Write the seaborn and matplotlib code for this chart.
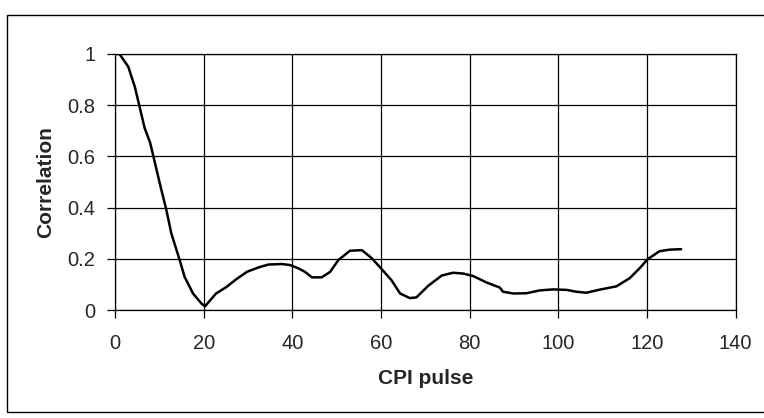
import numpy as np
import pandas as pd
import matplotlib
matplotlib.use("Agg")
import matplotlib.pyplot as plt
from matplotlib.patches import Rectangle
import seaborn as sns

# values
pulse = [0, 1, 3, 4.5, 5.6, 6.7, 7.9, 8.6, 10.1, 11.6, 12.7, 14.6, 15.7, 17.6, 19.5, 20.3,
         22.8, 25.1, 27.3, 29.8, 32.4, 34.6, 37.6, 39.5, 41.4, 42.9, 44.4, 46.6, 48.5, 50.4,
         53, 55.7, 57.9, 60, 62.4, 64.3, 66.5, 68, 70.7, 73.7, 76.2, 78.5, 80.8, 83.8, 86.8,
         87.5, 89.8, 92.8, 95.8, 98.8, 101.9, 104, 106.3, 109.3, 113.1, 116.1, 118.3, 120.2,
         121.7, 122.8, 125, 127.7]
correlation = [1.0, 1.0, 0.95, 0.87, 0.79, 0.71, 0.655, 0.605, 0.495, 0.39, 0.30, 0.195, 0.13,
               0.065, 0.026, 0.015, 0.065, 0.09, 0.12, 0.15, 0.167, 0.178, 0.18, 0.176, 0.163,
               0.149, 0.128, 0.128, 0.149, 0.196, 0.232, 0.234, 0.203, 0.163, 0.116, 0.065,
               0.047, 0.05, 0.096, 0.135, 0.146, 0.143, 0.133, 0.108, 0.088, 0.072, 0.065,
               0.066, 0.077, 0.081, 0.079, 0.072, 0.068, 0.08, 0.093, 0.125, 0.163, 0.2,
               0.217, 0.23, 0.236, 0.238]
x_ticks = [0, 20, 40, 60, 80, 100, 120, 140]
y_ticks = [0, 0.2, 0.4, 0.6, 0.8, 1]
y_tick_labels = ["0", "0.2", "0.4", "0.6", "0.8", "1"]

df = pd.DataFrame({"CPI pulse": pulse, "Correlation": correlation})

sns.set_style("white")
plt.rcParams["font.family"] = ["Liberation Sans", "DejaVu Sans"]

fig = plt.figure(figsize=(7.64, 4.18), dpi=100)
ax = fig.add_axes([0.1505, 0.258, 0.8125, 0.613])

sns.lineplot(data=df, x="CPI pulse", y="Correlation", color="black", linewidth=1.8, ax=ax)

ax.set_xlim(0, 140)
ax.set_ylim(0, 1)
ax.set_xticks(x_ticks)
ax.set_yticks(y_ticks)
ax.set_yticklabels(y_tick_labels)
ax.grid(True, color="black", linewidth=0.9)
for s in ax.spines.values():
    s.set_color("black")
    s.set_linewidth(0.9)
ax.tick_params(axis="both", direction="out", length=6, width=0.9, color="black",
               labelsize=14.5, pad=8, bottom=True, left=True)
ax.tick_params(axis="x", pad=11)
ax.set_xlabel("CPI pulse", fontsize=15, fontweight="bold", labelpad=12)
ax.set_ylabel("Correlation", fontsize=15, fontweight="bold", labelpad=9)

# outer chart frame
fig.patches.append(Rectangle((0.009, 0.014), 1.0, 0.95, transform=fig.transFigure,
                             fill=False, edgecolor="black", linewidth=1.0))

fig.savefig("out.png", dpi=100)
